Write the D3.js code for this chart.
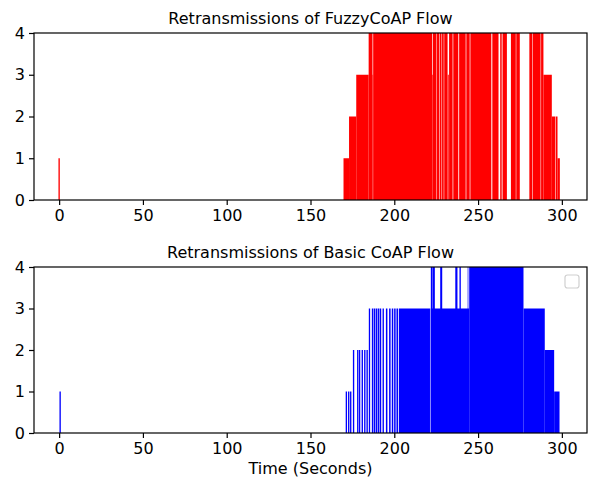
<!DOCTYPE html>
<html>
<head>
<meta charset="utf-8">
<script src="https://cdn.jsdelivr.net/npm/d3@7"></script>
<style>
  html, body { margin: 0; padding: 0; background: #fff; }
  svg { display: block; }
  text { font-family: "DejaVu Sans", sans-serif; fill: #000; }
</style>
</head>
<body>
<svg id="chart" width="593" height="481"></svg>
<script>
// ---- Data (start time, end time, retransmissions) ----
const fuzzyStart = [-0.4, 169.7, 173.0, 177.3, 184.7, 187.0, 187.4, 222.6, 223.0, 225.5, 227.1, 228.5, 229.8, 231.9, 232.7, 235.2, 238.7, 243.0, 245.4, 258.5, 263.2, 264.6, 269.6, 272.8, 280.6, 282.7, 287.6, 289.0, 294.0, 296.3, 297.4];
const fuzzyEnd   = [ 0.4, 173.0, 177.3, 184.7, 187.0, 187.4, 222.6, 223.0, 225.2, 226.8, 228.2, 229.5, 231.8, 232.5, 234.8, 238.2, 242.6, 245.0, 257.9, 262.2, 264.1, 267.2, 272.5, 274.9, 282.4, 287.3, 289.0, 294.0, 296.0, 297.4, 298.8];
const fuzzyValue = [ 1,   1,     2,     3,     4,     3,     4,     3,     4,     4,     4,     4,     4,     3,     4,     4,     4,     4,     4,     4,     4,     4,     4,     4,     4,     4,     4,     3,     2,     2,     1];

const basicStart = [0.2, 171.0, 172.4, 173.6, 175.3, 177.8, 178.9, 180.5, 182.0, 183.4, 184.8, 186.6, 187.8, 189.0, 190.2, 191.4, 193.0, 195.0, 196.9, 198.5, 199.9, 201.3, 202.7, 221.7, 277.1, 289.8, 295.4, 221.8, 223.1, 227.4, 236.4, 238.9, 243.8, 244.7];
const basicEnd   = [1.0, 171.8, 173.2, 174.4, 176.1, 178.6, 179.7, 181.3, 182.8, 184.2, 185.6, 187.5, 188.7, 189.9, 191.1, 192.2, 193.8, 195.9, 197.8, 199.4, 200.8, 202.2, 221.3, 244.7, 289.8, 295.4, 298.6, 222.9, 224.2, 228.6, 237.7, 239.7, 244.2, 277.1];
const basicValue = [1,   1,     1,     1,     2,     2,     2,     2,     2,     2,     3,     3,     3,     3,     3,     3,     3,     3,     3,     3,     3,     3,     3,     3,     3,     2,     1,     4,     4,     4,     4,     4,     4,     4];

const xTicks = [0, 50, 100, 150, 200, 250, 300];
const yTicks = [0, 1, 2, 3, 4];
const titles = ["Retransmissions of FuzzyCoAP Flow", "Retransmissions of Basic CoAP Flow"];
const xLabel = "Time (Seconds)";

// ---- Drawing ----
const svg = d3.select("#chart");
const left = 34, right = 587;
const panels = [
  { top: 33, bottom: 200, start: fuzzyStart, end: fuzzyEnd, value: fuzzyValue, color: "#ff0000", title: titles[0], legend: false },
  { top: 267, bottom: 433, start: basicStart, end: basicEnd, value: basicValue, color: "#0000ff", title: titles[1], legend: true }
];

panels.forEach((p, i) => {
  const x = d3.scaleLinear().domain([-15, 315]).range([left, right]);
  const y = d3.scaleLinear().domain([0, 4]).range([p.bottom, p.top]);
  const g = svg.append("g");

  const clipId = "clip" + i;
  svg.append("clipPath").attr("id", clipId)
    .append("rect").attr("x", left).attr("y", p.top).attr("width", right - left).attr("height", p.bottom - p.top);

  const rows = p.start.map((s, k) => ({ s, e: p.end[k], v: p.value[k] }));
  g.append("g").attr("clip-path", `url(#${clipId})`)
    .selectAll("rect").data(rows).join("rect")
    .attr("x", d => x(d.s))
    .attr("width", d => Math.max(0.5, x(d.e) - x(d.s)))
    .attr("y", d => y(d.v))
    .attr("height", d => y(0) - y(d.v))
    .attr("fill", p.color);

  // axes
  const xAxis = d3.axisBottom(x).tickValues(xTicks).tickSize(5).tickPadding(5).tickFormat(d3.format("d"));
  const yAxis = d3.axisLeft(y).tickValues(yTicks).tickSize(5).tickPadding(4).tickFormat(d3.format("d"));
  const gx = g.append("g").attr("transform", `translate(0,${p.bottom})`).call(xAxis);
  const gy = g.append("g").attr("transform", `translate(${left},0)`).call(yAxis);
  [gx, gy].forEach(a => {
    a.select(".domain").remove();
    a.selectAll(".tick line").attr("stroke", "#000").attr("stroke-width", 1.2);
    a.selectAll(".tick text").attr("font-size", 16).attr("font-family", "DejaVu Sans").attr("fill", "#000");
  });

  // spines
  g.append("rect").attr("x", left).attr("y", p.top).attr("width", right - left).attr("height", p.bottom - p.top)
    .attr("fill", "none").attr("stroke", "#000").attr("stroke-width", 1.2);

  // title
  g.append("text").attr("x", (left + right) / 2).attr("y", p.top - 9)
    .attr("text-anchor", "middle").attr("font-size", 16).text(p.title);

  if (p.legend) {
    g.append("rect").attr("x", 565).attr("y", 275).attr("width", 14).attr("height", 13)
      .attr("rx", 2.5).attr("fill", "#fff").attr("stroke", "#d0d0d0").attr("stroke-width", 1.2);
  }
});

svg.append("text").attr("x", (left + right) / 2).attr("y", 474)
  .attr("text-anchor", "middle").attr("font-size", 16).text(xLabel);
</script>
</body>
</html>
